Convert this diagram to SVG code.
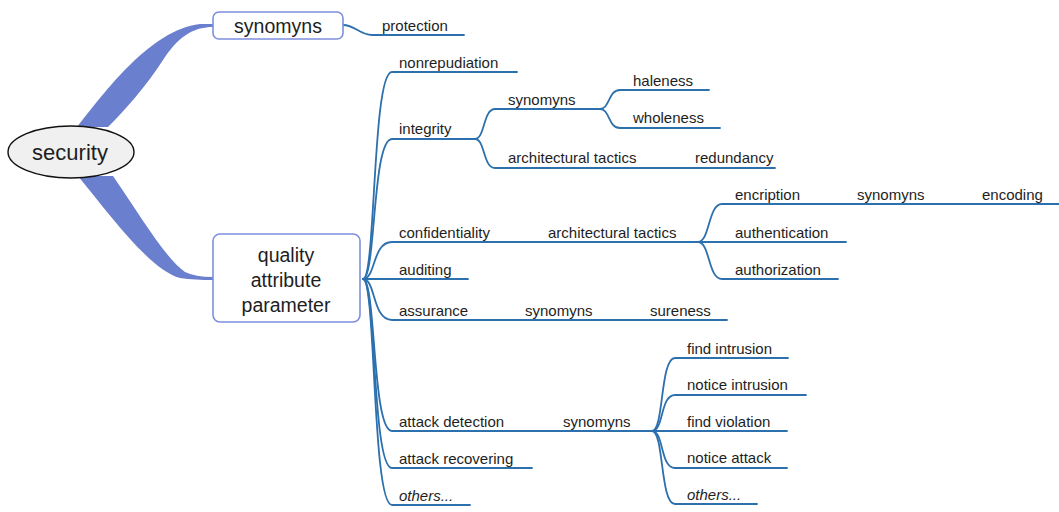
<svg xmlns="http://www.w3.org/2000/svg" width="1059" height="512" viewBox="0 0 1059 512">
<style>
.c{fill:none;stroke:#2c70ae;stroke-width:1.8;stroke-linecap:round}
.t{font-family:"Liberation Sans",Arial,sans-serif;font-size:15px;fill:#1e1e1e}
.i{font-style:italic}
.b{font-family:"Liberation Sans",Arial,sans-serif;font-size:19.5px;fill:#1e1e1e;text-anchor:middle}
.box{fill:#fff;stroke:#7d8fde;stroke-width:1.6}
.taper{fill:#6b7fcf}
</style>
<rect width="1059" height="512" fill="#fff"/>
<g id="connectors">
<path class="taper" d="M77,127 C105,92 150,30 200,24 L213,24 L213,27 C195,27 180,35 165,57 C145,88 125,110 108,127 Z"/>
<path class="taper" d="M78,176 C110,215 150,270 180,278 Q195,280 213,280 L213,277 Q195,277 185,272 C165,258 140,215 113,176 Z"/>
<path class="c" d="M343,25 C355,25 360,35 372,35 L464,35"/>
<path class="c" d="M363,279 C376,279 372,72 392,72 L517,72"/>
<path class="c" d="M363,279 C376,279 372,139 392,139 L475,139"/>
<path class="c" d="M363,279 C376,279 372,242 392,242 L698,242"/>
<path class="c" d="M363,279 L468,279"/>
<path class="c" d="M363,279 C376,279 372,320 392,320 L727,320"/>
<path class="c" d="M363,279 C376,279 372,431 392,431 L652,431"/>
<path class="c" d="M363,279 C376,279 372,468 392,468 L532,468"/>
<path class="c" d="M363,279 C376,279 372,505 392,505 L470,505"/>
<path class="c" d="M475,139 C485,139 483,109 495,109 L600,109"/>
<path class="c" d="M475,139 C485,139 483,168 495,168 L775,168"/>
<path class="c" d="M600,109 C610,109 608,90 620,90 L709,90"/>
<path class="c" d="M600,109 C610,109 608,128 620,128 L720,128"/>
<path class="c" d="M698,242 C710,242 708,204 722,204 L1059,204"/>
<path class="c" d="M698,242 L846,242"/>
<path class="c" d="M698,242 C710,242 708,279 722,279 L838,279"/>
<path class="c" d="M652,431 C664,431 660,358 675,358 L788,358"/>
<path class="c" d="M652,431 C664,431 660,395 675,395 L806,395"/>
<path class="c" d="M652,431 L787,431"/>
<path class="c" d="M652,431 C664,431 660,468 675,468 L787,468"/>
<path class="c" d="M652,431 C664,431 660,504 675,504 L757,504"/>
</g>
<g id="security">
<ellipse cx="71" cy="152" rx="63" ry="26" fill="#f0f0f0" stroke="#111" stroke-width="1.4"/>
<text x="70" y="160" class="b" style="font-size:22px">security</text>
</g>
<g id="synomyns-top">
<rect class="box" x="213" y="12" width="130" height="27" rx="6"/>
<text x="278" y="33" class="b">synomyns</text>
</g>
<g id="qap">
<rect class="box" x="213" y="234" width="147" height="88" rx="7"/>
<text x="286" y="262" class="b">quality</text>
<text x="286" y="287" class="b">attribute</text>
<text x="286" y="312" class="b">parameter</text>
</g>
<g id="protection"><text class="t" x="382" y="31">protection</text></g>
<g id="nonrepudiation"><text class="t" x="399" y="68">nonrepudiation</text></g>
<g id="integrity"><text class="t" x="399" y="134">integrity</text></g>
<g id="integrity-synomyns"><text class="t" x="508" y="105">synomyns</text></g>
<g id="haleness"><text class="t" x="633" y="86">haleness</text></g>
<g id="wholeness"><text class="t" x="633" y="123">wholeness</text></g>
<g id="integrity-tactics"><text class="t" x="508" y="163">architectural tactics</text></g>
<g id="redundancy"><text class="t" x="695" y="163">redundancy</text></g>
<g id="confidentiality"><text class="t" x="399" y="238">confidentiality</text></g>
<g id="conf-tactics"><text class="t" x="548" y="238">architectural tactics</text></g>
<g id="encription"><text class="t" x="735" y="200">encription</text></g>
<g id="encription-synomyns"><text class="t" x="857" y="200">synomyns</text></g>
<g id="encoding"><text class="t" x="982" y="200">encoding</text></g>
<g id="authentication"><text class="t" x="735" y="238">authentication</text></g>
<g id="authorization"><text class="t" x="735" y="275">authorization</text></g>
<g id="auditing"><text class="t" x="399" y="275">auditing</text></g>
<g id="assurance"><text class="t" x="399" y="316">assurance</text></g>
<g id="assurance-synomyns"><text class="t" x="525" y="316">synomyns</text></g>
<g id="sureness"><text class="t" x="650" y="316">sureness</text></g>
<g id="attack-detection"><text class="t" x="399" y="427">attack detection</text></g>
<g id="detection-synomyns"><text class="t" x="563" y="427">synomyns</text></g>
<g id="find-intrusion"><text class="t" x="687" y="354">find intrusion</text></g>
<g id="notice-intrusion"><text class="t" x="687" y="390">notice intrusion</text></g>
<g id="find-violation"><text class="t" x="687" y="427">find violation</text></g>
<g id="notice-attack"><text class="t" x="687" y="463">notice attack</text></g>
<g id="others-2"><text class="t i" x="687" y="500">others...</text></g>
<g id="attack-recovering"><text class="t" x="399" y="464">attack recovering</text></g>
<g id="others-1"><text class="t i" x="399" y="501">others...</text></g>
</svg>
